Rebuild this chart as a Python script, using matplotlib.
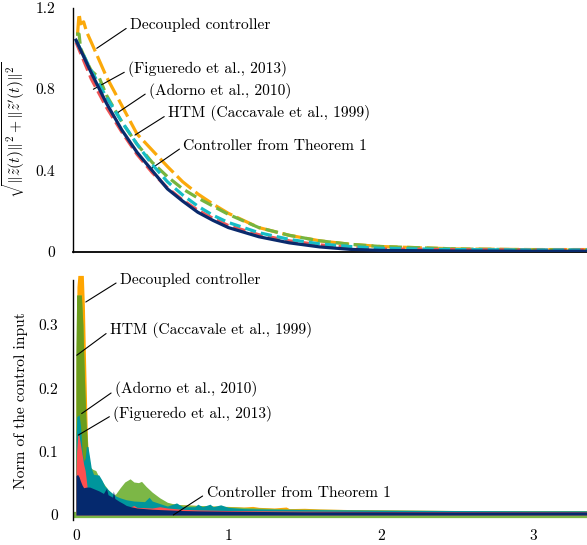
import matplotlib
matplotlib.use("Agg")
import matplotlib.pyplot as plt
import numpy as np

plt.rcParams['font.family'] = ['cmr10', 'DejaVu Serif']
plt.rcParams['mathtext.fontset'] = 'cm'
plt.rcParams['axes.formatter.use_mathtext'] = True
plt.rcParams['font.size'] = 11.2

# ---------------- top panel: error norm ----------------
t_dec = [0.0, 0.01, 0.02, 0.03, 0.04, 0.05, 0.07, 0.1, 0.2, 0.3, 0.4, 0.5, 0.6, 0.7, 0.8, 0.9, 1.0,
         1.2, 1.4, 1.6, 1.8, 2.0, 2.5, 3.0, 3.4]
v_dec = [1.07, 1.07, 1.17, 1.12, 1.125, 1.13, 1.08, 1.03, 0.86, 0.72, 0.58, 0.50, 0.42, 0.345, 0.285,
         0.235, 0.19, 0.12, 0.082, 0.055, 0.038, 0.027, 0.015, 0.012, 0.012]

t_fig = [0.0, 0.1, 0.2, 0.3, 0.4, 0.5, 0.6, 0.7, 0.8, 0.9, 1.0, 1.2, 1.4, 1.6, 1.8, 2.0, 2.5, 3.0, 3.4]
v_fig = [1.03, 0.85, 0.71, 0.59, 0.48, 0.39, 0.315, 0.255, 0.205, 0.165, 0.13, 0.085, 0.055, 0.035,
         0.022, 0.015, 0.011, 0.010, 0.010]

t_ado = [0.0, 0.02, 0.03, 0.06, 0.1, 0.13, 0.15, 0.2, 0.3, 0.4, 0.5, 0.6, 0.7, 0.8, 0.9, 1.0, 1.2,
         1.4, 1.6, 1.8, 2.0, 2.5, 3.0, 3.4]
v_ado = [1.07, 1.07, 1.00, 0.95, 0.89, 0.87, 0.86, 0.77, 0.64, 0.53, 0.44, 0.37, 0.31, 0.265, 0.225,
         0.185, 0.12, 0.082, 0.055, 0.038, 0.027, 0.015, 0.011, 0.010]

t_htm = [0.0, 0.1, 0.2, 0.3, 0.4, 0.5, 0.6, 0.7, 0.8, 0.9, 1.0, 1.2, 1.4, 1.6, 1.8, 2.0, 2.5, 3.0, 3.4]
v_htm = [1.04, 0.89, 0.76, 0.64, 0.53, 0.43, 0.345, 0.28, 0.225, 0.18, 0.145, 0.095, 0.062, 0.040,
         0.027, 0.018, 0.012, 0.010, 0.010]

t_thm = [0.0, 0.1, 0.2, 0.3, 0.4, 0.5, 0.6, 0.7, 0.8, 0.9, 1.0, 1.2, 1.4, 1.6, 1.8, 2.0, 2.5, 3.0, 3.4]
v_thm = [1.04, 0.88, 0.73, 0.60, 0.49, 0.40, 0.31, 0.25, 0.195, 0.155, 0.12, 0.075, 0.045, 0.025,
         0.013, 0.008, 0.005, 0.004, 0.004]

# ---------------- bottom panel: control input norm ----------------
tu_dec = [0.0, 0.006, 0.012, 0.048, 0.055, 0.062, 0.068, 0.075, 0.09, 0.12, 0.2, 0.3, 0.5, 0.7, 0.9,
          1.0, 1.1, 1.16, 1.2, 1.3, 1.38, 1.4, 1.5, 1.6, 1.7, 1.8, 2.0, 2.2, 2.4, 2.6, 2.8, 3.0, 3.2, 3.4]
u_dec = [0.20, 0.36, 0.378, 0.378, 0.33, 0.25, 0.19, 0.12, 0.06, 0.05, 0.03, 0.025, 0.02, 0.016,
         0.014, 0.0135, 0.0125, 0.0135, 0.012, 0.011, 0.0125, 0.010, 0.0105, 0.0095, 0.009, 0.0085,
         0.008, 0.0075, 0.0072, 0.007, 0.0068, 0.0068, 0.0066, 0.0066]

tu_htm = [0.0, 0.004, 0.035, 0.045, 0.052, 0.058, 0.065, 0.075, 0.085, 0.095, 0.11, 0.13, 0.15,
          0.18, 0.21, 0.24, 0.26, 0.29, 0.32, 0.355, 0.38, 0.41, 0.43, 0.46, 0.5, 0.55, 0.6, 0.65,
          0.7, 0.8, 0.9, 1.0, 1.2, 1.4, 1.6, 1.8, 2.0, 2.5, 3.0, 3.4]
u_htm = [0.25, 0.347, 0.347, 0.30, 0.24, 0.195, 0.15, 0.11, 0.09, 0.075, 0.072, 0.07, 0.06,
         0.05, 0.04, 0.032, 0.033, 0.043, 0.052, 0.057, 0.052, 0.051, 0.053, 0.045, 0.036, 0.027,
         0.020, 0.017, 0.016, 0.015, 0.014, 0.013, 0.011, 0.0095, 0.009, 0.0085, 0.008, 0.007,
         0.0065, 0.0065]

tu_ado = [0.0, 0.005, 0.02, 0.03, 0.04, 0.05, 0.06, 0.068, 0.078, 0.09, 0.1, 0.115, 0.15, 0.17,
          0.19, 0.2, 0.21, 0.23, 0.26, 0.29, 0.33, 0.38, 0.45, 0.48, 0.5, 0.55, 0.6, 0.66, 0.7,
          0.78, 0.8, 0.83, 0.88, 0.9, 0.95, 1.0, 1.1, 1.2, 1.3, 1.5, 1.7, 2.0, 2.5, 3.0, 3.4]
u_ado = [0.12, 0.155, 0.158, 0.14, 0.10, 0.085, 0.09, 0.108, 0.108, 0.09, 0.074, 0.064, 0.063,
         0.055, 0.045, 0.043, 0.040, 0.036, 0.030, 0.027, 0.024, 0.022, 0.021, 0.028, 0.022, 0.018,
         0.014, 0.019, 0.013, 0.013, 0.017, 0.013, 0.017, 0.013, 0.016, 0.012, 0.010, 0.0095, 0.009,
         0.0085, 0.008, 0.0075, 0.007, 0.0065, 0.0065]

tu_fig = [0.0, 0.004, 0.012, 0.02, 0.03, 0.04, 0.05, 0.06, 0.07, 0.08, 0.1, 0.2, 0.3, 0.35, 0.38,
          0.4, 0.5, 0.55, 0.6, 0.7, 0.8, 1.0, 1.5, 2.0, 3.4]
u_fig = [0.07, 0.10, 0.128, 0.125, 0.11, 0.095, 0.08, 0.07, 0.05, 0.03, 0.02, 0.015, 0.013, 0.012,
         0.015, 0.012, 0.011, 0.013, 0.011, 0.009, 0.008, 0.007, 0.006, 0.0055, 0.005]

tu_thm = [0.0, 0.01, 0.02, 0.03, 0.04, 0.05, 0.07, 0.09, 0.12, 0.15, 0.18, 0.19, 0.2, 0.21, 0.24,
          0.245, 0.255, 0.28, 0.31, 0.33, 0.36, 0.4, 0.45, 0.5, 0.6, 0.7, 0.8, 1.0, 1.2, 1.5, 2.0,
          2.5, 3.0, 3.4]
u_thm = [0.062, 0.064, 0.06, 0.053, 0.047, 0.043, 0.044, 0.044, 0.041, 0.038, 0.034, 0.038, 0.042,
         0.032, 0.028, 0.038, 0.026, 0.022, 0.018, 0.015, 0.013, 0.011, 0.010, 0.009, 0.008, 0.007,
         0.0065, 0.006, 0.0055, 0.005, 0.005, 0.0048, 0.0048, 0.0048]

labels = ["Decoupled controller", "(Figueredo et al., 2013)", "(Adorno et al., 2010)",
          "HTM (Caccavale et al., 1999)", "Controller from Theorem 1"]

c_orange = '#FBA90A'
c_green = '#76B43E'
c_cyan = '#16BCC6'
c_red = '#F05454'
c_navy = '#0A2A6C'

cb_orange = '#FFA500'
cb_olive = '#6B9C1C'
cb_lgreen = '#7CB746'
cb_teal = '#00969C'
cb_red = '#FF4F4F'
cb_navy = '#05296E'

fig = plt.figure(figsize=(5.87, 5.45), dpi=100)
ax1 = fig.add_axes([0.1244, 0.5376, 0.8756, 0.4485])
ax2 = fig.add_axes([0.1244, 0.0450, 0.8756, 0.4412])

xlim = (-0.0197, 3.355)

lw = 2.3
ax1.plot(t_dec, v_dec, color=c_orange, lw=lw, dashes=(6, 1.6), zorder=2)
ax1.plot(t_ado, v_ado, color=c_green, lw=lw, dashes=(4, 1.6), zorder=3)
ax1.plot(t_htm, v_htm, color=c_cyan, lw=lw, dashes=(3.5, 1.6), zorder=4)
ax1.plot(t_fig, v_fig, color=c_red, lw=lw, dashes=(4, 1.6), zorder=3.5)
ax1.plot(t_thm, v_thm, color=c_navy, lw=lw, zorder=5)

ax1.set_xlim(*xlim)
ax1.set_ylim(0, 1.2)
ax1.set_yticks([0, 0.4, 0.8, 1.2])
ax1.set_yticklabels(["0", "0.4", "0.8", "1.2"])
ax1.set_xticks([])
for s in ['top', 'right']:
    ax1.spines[s].set_visible(False)
ax1.spines['left'].set_linewidth(1.0)
ax1.spines['bottom'].set_linewidth(1.3)
ax1.tick_params(axis='y', length=0, pad=13)
ax1.set_ylabel(r"$\sqrt{\|\tilde{z}(t)\|^2 + \|\tilde{z}'(t)\|^2}$", labelpad=6)

ann_kw = dict(ha='left', va='center', annotation_clip=False,
              arrowprops=dict(arrowstyle='-', color='black', lw=0.8, shrinkA=1, shrinkB=0,
                              relpos=(0, 0.45)))

top_xy = [(0.136, 1.000), (0.114, 0.799), (0.267, 0.681), (0.387, 0.574), (0.497, 0.411)]
top_txt = [(0.355, 1.114), (0.343, 0.897), (0.480, 0.792), (0.605, 0.681), (0.705, 0.522)]
for lab, xy, xt in zip(labels, top_xy, top_txt):
    ax1.annotate(lab, xy=xy, xytext=xt, **ann_kw)

# bottom
ax2.axhline(0, color=cb_lgreen, lw=4.5, zorder=1)
ax2.fill_between(tu_dec, 0, u_dec, color=cb_orange, lw=0, zorder=2, clip_on=False)
tu_htm_a = np.array(tu_htm)
u_htm_a = np.array(u_htm)
ax2.fill_between(tu_htm_a, 0, u_htm_a, color=cb_lgreen, lw=0, zorder=3)
ax2.fill_between(tu_htm_a, 0, u_htm_a, where=tu_htm_a <= 0.075, color=cb_olive, lw=0, zorder=3.1,
                 interpolate=True)
ax2.fill_between(tu_ado, 0, u_ado, color=cb_teal, lw=0, zorder=4)
ax2.fill_between(tu_fig, 0, u_fig, color=cb_red, lw=0, zorder=5)
ax2.fill_between(tu_thm, 0, u_thm, color=cb_navy, lw=0, zorder=6)

ax2.set_xlim(*xlim)
ax2.set_ylim(-0.0087, 0.3707)
ax2.set_yticks([0, 0.1, 0.2, 0.3])
ax2.set_yticklabels(["0", "0.1", "0.2", "0.3"])
ax2.set_xticks([0, 1, 2, 3])
ax2.set_xticklabels(["0", "1", "2", "3"])
for s in ['top', 'right', 'bottom']:
    ax2.spines[s].set_visible(False)
ax2.spines['left'].set_linewidth(1.0)
ax2.spines['left'].set_zorder(10)
ax2.tick_params(axis='y', length=0, pad=11)
ax2.tick_params(axis='x', length=0, pad=6)
ax2.set_ylabel("Norm of the control input", labelpad=7)

bot_labels = [labels[0], labels[3], labels[2], labels[1], labels[4]]
bot_xy = [(0.064, 0.336), (0.005, 0.252), (0.037, 0.160), (0.015, 0.126), (0.639, 0.0)]
bot_txt = [(0.289, 0.371), (0.223, 0.292), (0.256, 0.198), (0.245, 0.160), (0.857, 0.035)]
for lab, xy, xt in zip(bot_labels, bot_xy, bot_txt):
    a = ax2.annotate(lab, xy=xy, xytext=xt, **ann_kw)
    a.set_zorder(12)

fig.savefig("out.png", dpi=100)
